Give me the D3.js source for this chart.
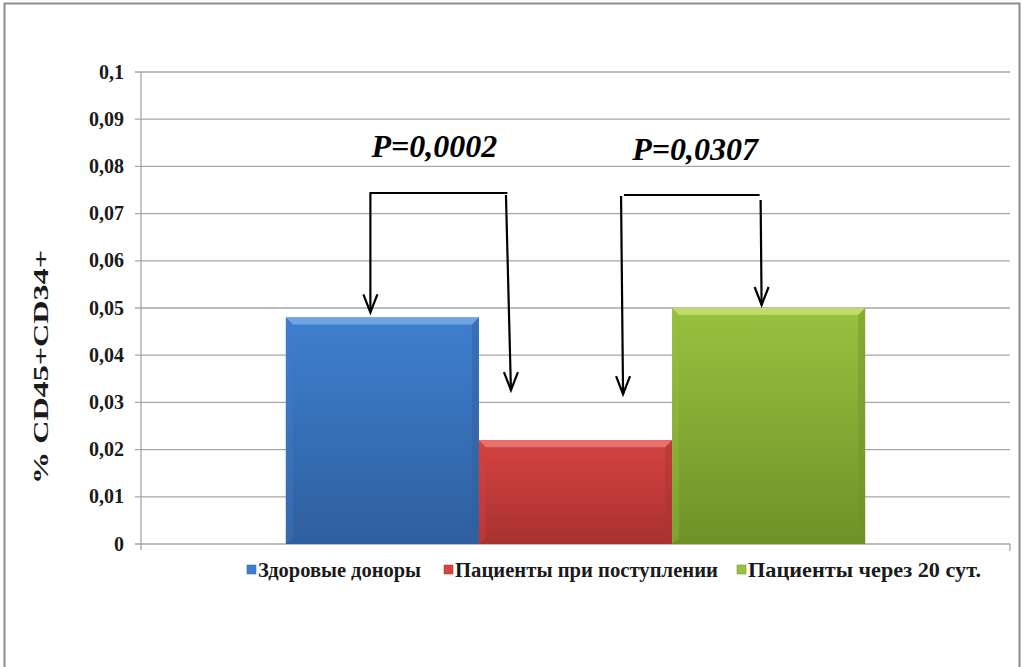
<!DOCTYPE html>
<html><head><meta charset="utf-8">
<script src="https://cdn.jsdelivr.net/npm/d3@7"></script>
<style>body{margin:0;background:#fff}svg{display:block}</style>
</head><body>
<svg id="c" width="1023" height="667"></svg>
<script>
const categories = ["Здоровые доноры", "Пациенты при поступлении", "Пациенты через 20 сут."];
const values = [0.048, 0.022, 0.05];
const colors = ["#3f7fcf", "#d44340", "#99c13f"];
const darkColors = ["#2f5f9f", "#a93230", "#6f9228"];
const lightColors = ["#6fa3e3", "#e8716e", "#bcdd68"];
const yTicks = [0, 0.01, 0.02, 0.03, 0.04, 0.05, 0.06, 0.07, 0.08, 0.09, 0.1];
const yTickLabels = ["0", "0,01", "0,02", "0,03", "0,04", "0,05", "0,06", "0,07", "0,08", "0,09", "0,1"];
const yTitle = "% CD45+CD34+";
// comparisons: [fromIndex, toIndex, label]
const comparisons = [[0, 1, "P=0,0002"], [1, 2, "P=0,0307"]];

(function () {
const FONT = "Liberation Serif";
const svg = d3.select("#c");

// outer border
svg.append("rect").attr("x", 4.5).attr("y", 3.5).attr("width", 1015).attr("height", 700)
  .attr("fill", "none").attr("stroke", "#8c8c8c").attr("stroke-width", 2);

const pLeft = 141, pRight = 1010, pTop = 72, pBottom = 544;
const y = d3.scaleLinear().domain([0, 0.1]).range([pBottom, pTop]);
const x = d3.scaleBand().domain(categories).range([pLeft, pRight]).paddingOuter(0.75).paddingInner(0);

// gridlines
svg.append("g").selectAll("line").data(yTicks).join("line")
  .attr("x1", pLeft - 6).attr("x2", pRight).attr("y1", d => y(d)).attr("y2", d => y(d))
  .attr("stroke", "#a6a6a6").attr("stroke-width", 1.3);
svg.append("line").attr("x1", pLeft).attr("x2", pLeft).attr("y1", pTop).attr("y2", pBottom + 6)
  .attr("stroke", "#a6a6a6").attr("stroke-width", 1.3);
svg.append("line").attr("x1", pRight).attr("x2", pRight).attr("y1", pBottom).attr("y2", pBottom + 7)
  .attr("stroke", "#a6a6a6").attr("stroke-width", 1.3);

// tick labels
svg.append("g").selectAll("text").data(yTicks).join("text")
  .attr("x", pLeft - 17).attr("y", d => y(d) + 6.5)
  .attr("text-anchor", "end").style("font-family", FONT).attr("font-weight", "bold")
  .attr("font-size", 20).attr("fill", "#1a1a1a").text((d, i) => yTickLabels[i]);

// y title
svg.append("text").attr("transform", "translate(48,367) rotate(-90)")
  .attr("text-anchor", "middle").style("font-family", FONT).attr("font-weight", "bold")
  .attr("font-size", 22).attr("textLength", 234).attr("lengthAdjust", "spacingAndGlyphs")
  .attr("fill", "#1a1a1a").text(yTitle);

// gradients
const defs = svg.append("defs");
categories.forEach((c, i) => {
  const g = defs.append("linearGradient").attr("id", "g" + i).attr("x1", 0).attr("y1", 0).attr("x2", 0).attr("y2", 1);
  g.append("stop").attr("offset", "0%").attr("stop-color", colors[i]);
  g.append("stop").attr("offset", "100%").attr("stop-color", darkColors[i]);
});

// bars
const bars = svg.append("g").selectAll("g").data(categories).join("g");
bars.append("rect")
  .attr("x", d => x(d)).attr("y", (d, i) => y(values[i]))
  .attr("width", x.bandwidth()).attr("height", (d, i) => pBottom - y(values[i]))
  .attr("fill", (d, i) => `url(#g${i})`);
const bev = 7;
bars.append("path").attr("d", (d, i) => {
  const x0 = x(d), x1 = x(d) + x.bandwidth(), y0 = y(values[i]);
  return `M${x0},${y0}L${x1},${y0}L${x1 - bev},${y0 + bev}L${x0 + bev},${y0 + bev}Z`;
}).attr("fill", (d, i) => lightColors[i]);
bars.append("path").attr("d", (d, i) => {
  const x0 = x(d), y0 = y(values[i]);
  return `M${x0},${y0}L${x0 + bev},${y0 + bev}L${x0 + bev},${pBottom - 5}L${x0},${pBottom}Z`;
}).attr("fill", (d, i) => colors[i]).attr("opacity", 0.35);
bars.append("path").attr("d", (d, i) => {
  const x1 = x(d) + x.bandwidth(), y0 = y(values[i]);
  return `M${x1},${y0}L${x1 - bev},${y0 + bev}L${x1 - bev},${pBottom - 5}L${x1},${pBottom}Z`;
}).attr("fill", (d, i) => darkColors[i]).attr("opacity", 0.45);
bars.append("path").attr("d", (d, i) => {
  const x0 = x(d), x1 = x(d) + x.bandwidth();
  return `M${x0},${pBottom}L${x0 + bev},${pBottom - 5}L${x1 - bev},${pBottom - 5}L${x1},${pBottom}Z`;
}).attr("fill", (d, i) => darkColors[i]).attr("opacity", 0.7);

// comparison brackets
const ann = svg.append("g").attr("stroke", "#000").attr("stroke-width", 2.2).attr("fill", "none");
function arrow(xTop, yTop, xTip, yTip) {
  ann.append("line").attr("x1", xTop).attr("y1", yTop).attr("x2", xTip).attr("y2", yTip);
  ann.append("path").attr("d", `M${xTip - 7},${yTip - 18}L${xTip},${yTip}L${xTip + 7},${yTip - 18}`);
}
{
  const bx = x(categories[0]) + x.bandwidth() / 2 - 12;
  const rx = x(categories[1]) + 32;
  const yb = 193;
  ann.append("line").attr("x1", bx).attr("x2", bx + 137).attr("y1", yb).attr("y2", yb);
  arrow(bx, yb - 1, bx, y(values[0]) - 5);
  arrow(rx - 5, yb + 2, rx, y(values[1]) - 50);
  svg.append("text").attr("x", bx + 64).attr("y", 157).attr("text-anchor", "middle")
    .style("font-family", FONT).attr("font-style", "italic").attr("font-weight", "bold")
    .attr("font-size", 32).attr("fill", "#000").text(comparisons[0][2]);
}
{
  const lx = x(categories[1]) + x.bandwidth() - 51;
  const gx = x(categories[2]) + x.bandwidth() / 2 - 8;
  const yb = 195;
  ann.append("line").attr("x1", lx + 3).attr("x2", gx - 1).attr("y1", yb).attr("y2", yb);
  arrow(lx, yb + 1, lx + 2, y(values[1]) - 46);
  arrow(gx, yb + 5, gx + 1, y(values[2]) - 3);
  svg.append("text").attr("x", lx + 74).attr("y", 160).attr("text-anchor", "middle")
    .style("font-family", FONT).attr("font-style", "italic").attr("font-weight", "bold")
    .attr("font-size", 32).attr("fill", "#000").text(comparisons[1][2]);
}

// legend
const leg = svg.append("g");
const legStarts = [247, 444, 737];
const legWidths = [163, 263, 233];
categories.forEach((c, i) => {
  const g = leg.append("g").attr("transform", `translate(${legStarts[i]},577)`);
  g.append("rect").attr("x", 0).attr("y", -12).attr("width", 9).attr("height", 9).attr("fill", colors[i])
    .attr("stroke", darkColors[i]).attr("stroke-width", 0.5);
  g.append("text").attr("x", 11).attr("y", 0).style("font-family", FONT).attr("font-weight", "bold")
    .attr("font-size", 20).attr("textLength", legWidths[i]).attr("lengthAdjust", "spacingAndGlyphs")
    .attr("fill", "#1a1a1a").text(c);
});
})();
</script>
</body></html>
